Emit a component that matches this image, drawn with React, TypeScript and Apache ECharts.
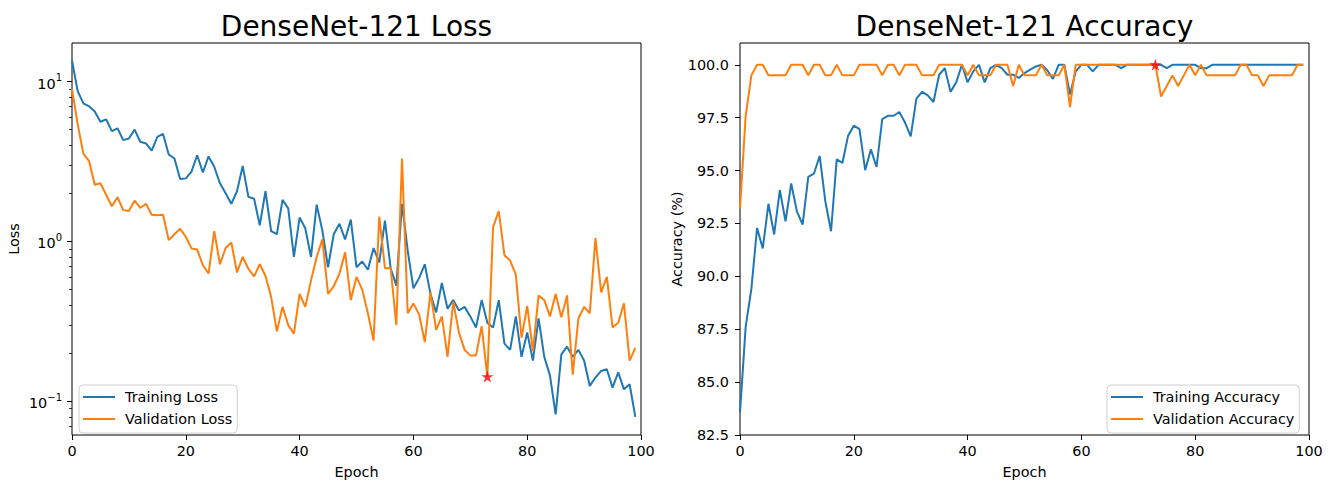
import React, { useEffect, useRef } from "react";
import * as echarts from "echarts";

const epochs: number[] = Array.from({ length: 100 }, (_, i) => i);

const trainLoss = [
  13.5, 8.7, 7.3, 7.0, 6.5, 5.6, 5.8, 4.9, 5.1, 4.3,
  4.4, 5.0, 4.2, 4.1, 3.7, 4.5, 4.7, 3.5, 3.3, 2.46,
  2.48, 2.73, 3.46, 2.7, 3.4, 2.93, 2.31, 2.0, 1.72, 2.06,
  2.97, 1.9, 1.85, 1.26, 2.06, 1.16, 1.11, 1.82, 1.61, 0.8,
  1.41, 1.21, 0.8, 1.7, 1.17, 0.69, 1.11, 1.29, 1.03, 1.37,
  0.69, 0.75, 0.665, 0.91, 0.74, 1.35, 0.68, 0.53, 1.72, 0.875,
  0.51, 0.59, 0.72, 0.47, 0.36, 0.55, 0.38, 0.43, 0.37, 0.39,
  0.34, 0.29, 0.43, 0.31, 0.29, 0.43, 0.23, 0.21, 0.34, 0.19,
  0.27, 0.18, 0.33, 0.19, 0.145, 0.083, 0.197, 0.22, 0.19, 0.21,
  0.18, 0.125, 0.141, 0.155, 0.159, 0.122, 0.152, 0.119, 0.128, 0.08,
];

const valLoss = [
  9.0, 5.4, 3.54, 3.18, 2.26, 2.31, 1.96, 1.66, 1.89, 1.57,
  1.55, 1.8, 1.62, 1.72, 1.47, 1.46, 1.47, 1.02, 1.11, 1.2,
  1.07, 0.905, 0.89, 0.71, 0.63, 1.16, 0.72, 0.91, 0.985, 0.64,
  0.8, 0.675, 0.605, 0.72, 0.61, 0.45, 0.274, 0.39, 0.3, 0.265,
  0.47, 0.39, 0.57, 0.8, 1.03, 0.47, 0.525, 0.63, 0.855, 0.43,
  0.6, 0.5, 0.356, 0.24, 1.43, 0.68, 0.68, 0.3, 3.3, 0.356,
  0.41, 0.35, 0.235, 0.48, 0.28, 0.34, 0.19, 0.42, 0.27, 0.21,
  0.194, 0.194, 0.295, 0.143, 1.23, 1.55, 0.82, 0.76, 0.62, 0.25,
  0.395, 0.206, 0.46, 0.43, 0.34, 0.47, 0.336, 0.46, 0.147, 0.33,
  0.39, 0.356, 1.05, 0.48, 0.6, 0.29, 0.31, 0.41, 0.18, 0.216,
];

const trainAcc = [
  83.57, 87.62, 89.41, 92.29, 91.32, 93.43, 91.98, 94.08, 92.6, 94.39,
  93.07, 92.45, 94.7, 94.86, 95.69, 93.54, 92.13, 95.53, 95.36, 96.65,
  97.12, 96.96, 95.02, 96.0, 95.17, 97.43, 97.59, 97.59, 97.77, 97.27,
  96.62, 98.4, 98.72, 98.55, 98.24, 99.53, 99.84, 98.72, 99.17, 100,
  99.17, 99.69, 100, 99.17, 99.84, 100, 99.84, 99.53, 99.53, 99.38,
  99.61, 99.77, 99.92, 100, 99.74, 99.33, 100, 100, 98.6, 99.69,
  100, 100, 99.69, 100, 100, 100, 100, 99.84, 100, 100,
  100, 100, 100, 100, 100, 99.84, 100, 100, 100, 100,
  100, 99.84, 99.84, 100, 100, 100, 100, 100, 100, 100,
  100, 100, 100, 100, 100, 100, 100, 100, 100, 100,
];

const valAcc = [
  93.2, 97.6, 99.5, 100, 100, 99.5, 99.5, 99.5, 99.5, 100,
  100, 100, 99.5, 100, 100, 99.5, 99.5, 100, 99.5, 99.5,
  99.5, 100, 100, 100, 100, 99.5, 100, 100, 99.5, 100,
  100, 100, 99.5, 99.5, 99.5, 100, 100, 100, 100, 100,
  99.5, 100, 99.5, 99.5, 99.5, 100, 100, 100, 99.0, 100,
  99.5, 99.5, 99.5, 100, 99.5, 99.5, 99.5, 100, 98.0, 100,
  100, 100, 100, 100, 100, 100, 100, 100, 100, 100,
  100, 100, 100, 100, 98.5, 99.0, 99.5, 99.0, 99.5, 100,
  99.5, 100, 99.5, 99.5, 99.5, 99.5, 99.5, 99.5, 100, 100,
  99.5, 99.5, 99.0, 99.5, 99.5, 99.5, 99.5, 99.5, 100, 100,
];

const bestEpoch = 73;

const xTicks = [0, 20, 40, 60, 80, 100];
const lossMajorTicks = [0.1, 1, 10];
const lossMinorTicks = [
  0.07, 0.08, 0.09, 0.2, 0.3, 0.4, 0.5, 0.6, 0.7, 0.8, 0.9,
  2, 3, 4, 5, 6, 7, 8, 9,
];
const accTicks = [82.5, 85.0, 87.5, 90.0, 92.5, 95.0, 97.5, 100.0];

const BLUE = "#1f77b4";
const ORANGE = "#ff7f0e";
const FONT = "DejaVu Sans";
const FS = 14.4;
const STAR =
  "path://M50,0 L61.2,34.5 L97.6,34.5 L68.2,55.9 L79.4,90.5 L50,69.1 L20.6,90.5 L31.8,55.9 L2.4,34.5 L38.8,34.5 Z";

function pairs(ys: number[]) {
  return epochs.map((e, i) => [e, ys[i]]);
}

export default function App() {
  const ref = useRef<HTMLDivElement>(null);

  useEffect(() => {
    if (!ref.current) return;
    const chart = echarts.init(ref.current, undefined, { renderer: "svg" });

    const grids = [
      { left: 72, top: 43, width: 569, height: 397 },
      { left: 740, top: 43, width: 569, height: 397 },
    ];

    const xAxisBase = (gridIndex: number) => ({
      type: "value",
      gridIndex,
      min: 0,
      max: 100,
      interval: 20,
      name: "Epoch",
      nameLocation: "middle",
      nameGap: 30,
      nameTextStyle: { fontSize: FS, fontFamily: FONT, color: "#000" },
      axisLine: { show: false },
      splitLine: { show: false },
      axisTick: {
        show: true,
        length: 5,
        customValues: xTicks,
        lineStyle: { color: "#000", width: 1 },
      },
      axisLabel: {
        customValues: xTicks,
        fontSize: FS,
        fontFamily: FONT,
        color: "#000",
        margin: 9,
      },
    });

    const supers = (v: number) => {
      const e = Math.round(Math.log10(v));
      const s = e < 0 ? "\u2212" + Math.abs(e) : String(e);
      return "{b|10}{s|" + s + "}";
    };

    const legendBase = {
      orient: "vertical",
      top: 385,
      icon: "rect",
      itemWidth: 32,
      itemHeight: 2,
      itemGap: 6,
      padding: [4, 5, 6, 4],
      borderColor: "#d0d0d0",
      borderWidth: 1,
      borderRadius: 4,
      backgroundColor: "rgba(255,255,255,0.8)",
      textStyle: { fontSize: FS, fontFamily: FONT, color: "#000", padding: [0, 0, 0, 5], lineHeight: 16 },
    };

    const option: any = {
      animation: false,
      backgroundColor: "#fff",
      grid: grids.map((g) => ({
        ...g,
        show: true,
        borderColor: "#000",
        borderWidth: 1,
        backgroundColor: "transparent",
      })),
      xAxis: [xAxisBase(0), xAxisBase(1)],
      yAxis: [
        {
          type: "log",
          logBase: 10,
          gridIndex: 0,
          min: 0.06166,
          max: 17.41,
          name: "Loss",
          nameLocation: "middle",
          nameGap: 51,
          nameRotate: 90,
          nameTextStyle: { fontSize: FS, fontFamily: FONT, color: "#000" },
          axisLine: { show: false },
          splitLine: { show: false },
          minorTick: { show: false },
          axisTick: {
            show: true,
            length: 5,
            customValues: lossMajorTicks,
            lineStyle: { color: "#000", width: 1 },
          },
          axisLabel: {
            customValues: lossMajorTicks,
            margin: 10,
            formatter: (v: number) => supers(v),
            rich: {
              b: { fontSize: FS, fontFamily: FONT, color: "#000", lineHeight: 18, verticalAlign: "bottom" },
              s: { fontSize: 10, fontFamily: FONT, color: "#000", lineHeight: 18, verticalAlign: "top" },
            },
          },
        },
        {
          type: "log",
          logBase: 10,
          gridIndex: 0,
          min: 0.06166,
          max: 17.41,
          position: "left",
          axisLine: { show: false },
          splitLine: { show: false },
          axisTick: {
            show: true,
            length: 3,
            customValues: lossMinorTicks,
            lineStyle: { color: "#000", width: 0.8 },
          },
          axisLabel: { show: false },
        },
        {
          type: "value",
          gridIndex: 1,
          min: 82.5,
          max: 101.03,
          name: "Accuracy (%)",
          nameLocation: "middle",
          nameGap: 56,
          nameRotate: 90,
          nameTextStyle: { fontSize: FS, fontFamily: FONT, color: "#000" },
          axisLine: { show: false },
          splitLine: { show: false },
          axisTick: {
            show: true,
            length: 5,
            customValues: accTicks,
            lineStyle: { color: "#000", width: 1 },
          },
          axisLabel: {
            customValues: accTicks,
            margin: 11,
            fontSize: FS,
            fontFamily: FONT,
            color: "#000",
            formatter: (v: number) => v.toFixed(1),
          },
        },
      ],
      legend: [
        { ...legendBase, data: ["Training Loss", "Validation Loss"], left: 79 },
        { ...legendBase, data: ["Training Accuracy", "Validation Accuracy"], left: 1107 },
      ],
      graphic: [
        {
          type: "text",
          x: 356.5,
          y: 26,
          style: {
            text: "DenseNet-121 Loss",
            fontSize: 28,
            fontFamily: FONT,
            fill: "#000",
            textAlign: "center",
            textVerticalAlign: "middle",
          },
        },
        {
          type: "text",
          x: 1024.5,
          y: 26,
          style: {
            text: "DenseNet-121 Accuracy",
            fontSize: 28,
            fontFamily: FONT,
            fill: "#000",
            textAlign: "center",
            textVerticalAlign: "middle",
          },
        },
      ],
      series: [
        {
          name: "Training Loss",
          type: "line",
          xAxisIndex: 0,
          yAxisIndex: 0,
          data: pairs(trainLoss),
          showSymbol: false,
          symbol: "none",
          color: BLUE,
          lineStyle: { color: BLUE, width: 2 },
          z: 2,
        },
        {
          name: "Validation Loss",
          type: "line",
          xAxisIndex: 0,
          yAxisIndex: 0,
          data: pairs(valLoss),
          showSymbol: false,
          symbol: "none",
          color: ORANGE,
          lineStyle: { color: ORANGE, width: 2 },
          z: 3,
        },
        {
          name: "bestLoss",
          type: "scatter",
          xAxisIndex: 0,
          yAxisIndex: 0,
          data: [[bestEpoch, valLoss[bestEpoch]]],
          symbol: STAR,
          symbolSize: 12,
          itemStyle: { color: "#ff0000" },
          z: 5,
        },
        {
          name: "Training Accuracy",
          type: "line",
          xAxisIndex: 1,
          yAxisIndex: 2,
          data: pairs(trainAcc),
          showSymbol: false,
          symbol: "none",
          color: BLUE,
          lineStyle: { color: BLUE, width: 2 },
          z: 2,
        },
        {
          name: "Validation Accuracy",
          type: "line",
          xAxisIndex: 1,
          yAxisIndex: 2,
          data: pairs(valAcc),
          showSymbol: false,
          symbol: "none",
          color: ORANGE,
          lineStyle: { color: ORANGE, width: 2 },
          z: 3,
        },
        {
          name: "bestAcc",
          type: "scatter",
          xAxisIndex: 1,
          yAxisIndex: 2,
          data: [[bestEpoch, valAcc[bestEpoch]]],
          symbol: STAR,
          symbolSize: 12,
          itemStyle: { color: "#ff0000" },
          z: 5,
        },
      ],
    };

    chart.setOption(option);
    return () => chart.dispose();
  }, []);

  return (
    <div
      ref={ref}
      style={{ position: "absolute", left: 0, top: 0, width: 1338, height: 484, background: "#fff" }}
    />
  );
}
